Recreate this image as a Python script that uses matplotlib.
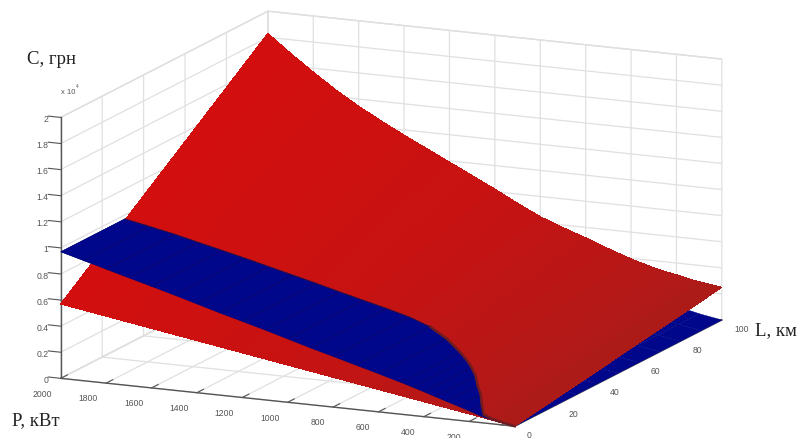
import numpy as np
import matplotlib
matplotlib.use('Agg')
import matplotlib.pyplot as plt
from matplotlib.colors import LinearSegmentedColormap

# P, kW along the front edge, L, km going back
P_vals = [0, 100, 150, 200, 250, 300, 350, 400, 450, 500, 600, 700, 800, 900, 1000,
          1100, 1200, 1300, 1400, 1500, 1600, 1700, 1800, 1900, 2000]
L_vals = [0, 50, 100]
L_blue = [0, 10, 20, 30, 40, 50, 60, 70, 80, 90, 100]

# red surface, UAH
red_L0 = [0, 285, 428, 570, 713, 855, 998, 1140, 1283, 1425, 1710, 1995, 2280, 2565, 2850,
          3135, 3420, 3705, 3990, 4275, 4560, 4845, 5130, 5415, 5700]
red_L50 = [1250, 1518, 1664, 1835, 1982, 2153, 2349, 2545, 2767, 2988, 3455, 3898, 4365, 4933, 5525,
           6093, 6660, 7228, 7795, 8388, 9005, 9673, 10415, 11183, 12000]
red_L100 = [2500, 2750, 2900, 3100, 3250, 3450, 3700, 3950, 4250, 4550, 5200, 5800, 6450, 7300, 8200,
            9050, 9900, 10750, 11600, 12500, 13450, 14500, 15700, 16950, 18300]

# blue surface, does not change with L
blue_vals = [0, 300, 500, 800, 1080, 1350, 1620, 1900, 2170, 2430, 2920, 3400, 3880, 4350, 4850,
             5350, 5830, 6300, 6800, 7300, 7780, 8250, 8730, 9220, 9700]
# L where blue goes under red
cross_L = [0, 0.5, 1.5, 6, 11, 15, 19.5, 23, 26, 28.5, 33, 36, 37, 37, 36.5,
           36, 35.8, 35.5, 35, 34.5, 34, 33.5, 33, 32, 31]

P_ticks = [0, 200, 400, 600, 800, 1000, 1200, 1400, 1600, 1800, 2000]
L_ticks = [0, 20, 40, 60, 80, 100]
C_ticks = [0, 2000, 4000, 6000, 8000, 10000, 12000, 14000, 16000, 18000, 20000]
C_labels = ['0', '0.2', '0.4', '0.6', '0.8', '1', '1.2', '1.4', '1.6', '1.8', '2']

BLUE = '#00078a'
GREY = '#555555'
red_map = LinearSegmentedColormap.from_list('red_shade', ['#ad1b19', '#c81212', '#d40e0e'])

plt.rcParams['font.family'] = ['Liberation Sans', 'DejaVu Sans']
fig = plt.figure(figsize=(7.98, 4.39), dpi=100)
ax = fig.add_axes([-18.5 / 798, (439 - 798 - 22) / 2 / 439, 1, 798 / 439], projection='3d', proj_type='ortho')
ax.computed_zorder = False
ax.view_init(elev=13.45, azim=204.4)
ax.set_box_aspect((501, 498, 268), zoom=0.92)

P_arr = np.array(P_vals, dtype=float)
Lb, Pb = np.meshgrid(L_blue, P_arr, indexing='ij')
Zb = np.array([blue_vals] * len(L_blue), dtype=float)
ax.plot_surface(Lb, Pb, Zb, color=BLUE, shade=False, rstride=1, cstride=1,
                edgecolor=BLUE, linewidth=0.3, zorder=3)

Lr, Pr = np.meshgrid(L_vals, P_arr, indexing='ij')
Zr = np.array([red_L0, red_L50, red_L100], dtype=float)
ax.plot_surface(Lr, Pr, Zr, facecolors=red_map(Pr / 2000), shade=False, rstride=1, cstride=1,
                edgecolor='none', linewidth=0, antialiased=False, zorder=4)

# part of blue that lies over red
Lf = np.array([np.zeros(len(cross_L)), cross_L], dtype=float)
Pf = np.array([P_arr, P_arr])
Zf = np.array([blue_vals, blue_vals], dtype=float)
ax.plot_surface(Lf, Pf, Zf, color=BLUE, shade=False, rstride=1, cstride=1,
                edgecolor='#00066e', linewidth=0.3, zorder=5)
ax.plot(cross_L[:12], P_vals[:12], blue_vals[:12], color='#6e1c22', lw=1.8, zorder=6)
ax.plot(cross_L[11:], P_vals[11:], blue_vals[11:], color='#3a0f3a', lw=0.6, zorder=6)

ax.set_xlim(0, 100, view_margin=0)
ax.set_ylim(0, 2000, view_margin=0)
ax.set_zlim(0, 20000, view_margin=0)
ax.set_xticks(L_ticks)
ax.set_yticks(P_ticks)
ax.set_zticks(C_ticks)
ax.set_zticklabels(C_labels)

for axis in [ax.xaxis, ax.yaxis, ax.zaxis]:
    axis.set_pane_color((1, 1, 1, 1))
    axis.pane.set_edgecolor('#dcdcdc')
    axis.line.set_color('#555555')
    axis.line.set_linewidth(1.0)
    axis._axinfo['grid'].update(color='#e0e0e0', linewidth=0.9)
    axis._axinfo['tick'].update(inward_factor=0, outward_factor=0.4, linewidth={True: 0.8, False: 0.5})
ax.zaxis._axinfo['tick'].update(outward_factor=0)
# z ticks run along P in the original
for c in C_ticks:
    ax.plot([0, 0], [2000, 2055], [c, c], color='#555555', lw=0.8, zorder=1)

ax.tick_params(axis='both', labelsize=6.2, labelcolor=GREY, color='#555555')
ax.tick_params(axis='x', pad=0)
ax.tick_params(axis='y', pad=4)
ax.tick_params(axis='z', pad=-2.5)
for t in ax.xaxis.get_ticklabels():
    t.set_ha('left')
    t.set_va('center')
for t in ax.yaxis.get_ticklabels():
    t.set_ha('right')
    t.set_va('center')
for t in ax.zaxis.get_ticklabels():
    t.set_ha('right')
    t.set_va('center')

fig.text(27 / 798, 1 - 60 / 439, 'C, грн', family='Liberation Serif', fontsize=13.5, color='#222222', va='center')
fig.text(12 / 798, 1 - 421 / 439, 'P, кВт', family='Liberation Serif', fontsize=13.5, color='#222222', va='center')
fig.text(755 / 798, 1 - 331 / 439, 'L, км', family='Liberation Serif', fontsize=13.5, color='#222222', va='center')
fig.text(61 / 798, 1 - 92 / 439, 'x 10', fontsize=5.5, color=GREY, va='center')
fig.text(76 / 798, 1 - 86 / 439, '4', fontsize=3.5, color=GREY, va='center')

fig.savefig('out.png', dpi=100)
